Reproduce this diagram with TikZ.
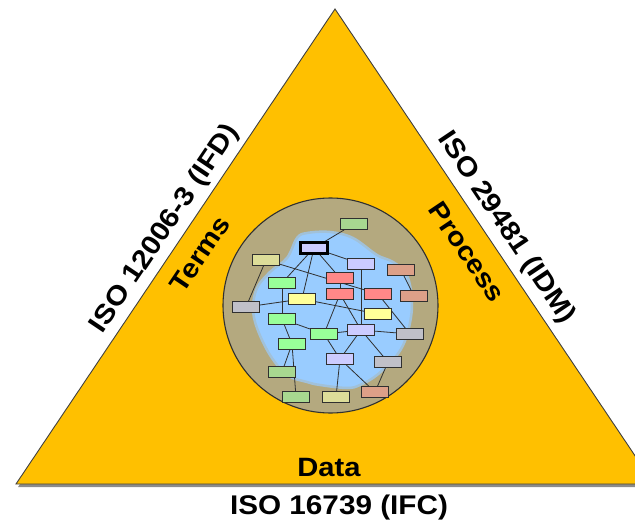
\documentclass[tikz,border=0pt]{standalone}
\usepackage{fontspec}
\setmainfont{Liberation Sans}
\usetikzlibrary{backgrounds}
\definecolor{tri}{HTML}{FFC000}
\definecolor{tan}{HTML}{B4A97F}
\definecolor{blob}{HTML}{99CCFF}
\definecolor{gr}{HTML}{99FF99}
\definecolor{grm}{HTML}{A8D890}
\definecolor{lav}{HTML}{CCCCFF}
\definecolor{kha}{HTML}{DDDD99}
\definecolor{yel}{HTML}{FFFF99}
\definecolor{red}{HTML}{FF8888}
\definecolor{sal}{HTML}{DDA088}
\definecolor{gry}{HTML}{C0C0C8}
\definecolor{edge}{HTML}{303030}
\tikzset{
  box/.style={draw=edge, line width=1.3pt, minimum width=27pt, minimum height=10.5pt, inner sep=0pt, rectangle},
  boldbox/.style={box, draw=black, line width=2.6pt},
  link/.style={draw=edge, line width=0.8pt},
  lbl/.style={font=\fontsize{27}{30}\selectfont\bfseries, inner sep=0pt},
  sublbl/.style={font=\fontsize{26.5}{30}\selectfont\bfseries, inner sep=0pt}
}
\begin{document}
\begin{tikzpicture}[x=1pt, y=-1pt]
\useasboundingbox (0,0) rectangle (635,524);
\clip (0,0) rectangle (635,524);
% nodes
\node[box, fill=grm] (n1) at (354,224) {};
\node[boldbox, fill=lav] (n2) at (314,248) {};
\node[box, fill=kha] (n3) at (266,260) {};
\node[box, fill=lav] (n4) at (361,264) {};
\node[box, fill=sal] (n5) at (401,270) {};
\node[box, fill=red] (n6) at (340,278) {};
\node[box, fill=gr] (n7) at (282,283) {};
\node[box, fill=red] (n8) at (340,294) {};
\node[box, fill=red] (n9) at (378,294) {};
\node[box, fill=sal] (n10) at (414,296) {};
\node[box, fill=yel] (n11) at (302,299) {};
\node[box, fill=gry] (n12) at (246,307) {};
\node[box, fill=yel] (n13) at (378,314) {};
\node[box, fill=gr] (n14) at (282,319) {};
\node[box, fill=lav] (n15) at (361,330) {};
\node[box, fill=gr] (n16) at (324,334) {};
\node[box, fill=gry] (n17) at (410,334) {};
\node[box, fill=gr] (n18) at (292,344) {};
\node[box, fill=lav] (n19) at (340,359) {};
\node[box, fill=gry] (n20) at (388,362) {};
\node[box, fill=grm] (n21) at (282,372) {};
\node[box, fill=sal] (n22) at (375,392) {};
\node[box, fill=grm] (n23) at (296,397) {};
\node[box, fill=kha] (n24) at (336,397) {};
% labels
\node[lbl, rotate=56.1] (l1) at (165,229) {\scalebox{1.1}[1]{ISO 12006-3 (IFD)}};
\node[lbl, rotate=-56.1] (l2) at (506,228) {\scalebox{1.1}[1]{ISO 29481 (IDM)}};
\node[lbl] (l3) at (339,508) {\scalebox{1.1}[1]{ISO 16739 (IFC)}};
\node[sublbl, rotate=56.1] (t1) at (200,254) {\scalebox{1.1}[1]{Terms}};
\node[sublbl, rotate=-56.1] (t2) at (467,252) {\scalebox{1.1}[1]{Process}};
\node[sublbl] (t3) at (329,468) {\scalebox{1.1}[1]{Data}};
\begin{scope}[on background layer]
  % triangle with shadow
  \fill[black!45] (337,12) -- (18,487) -- (656,487) -- cycle;
  \fill[tri] (335,9) -- (16,484) -- (654,484) -- cycle;
  \draw[black!75, line width=0.9pt, line join=miter] (335,9) -- (16,484) -- (654,484) -- cycle;
  % circle
  \draw[fill=tan, draw=edge, line width=1.1pt] (330.5,305.5) circle[radius=107.5];
  % blob
  \path[fill=blob, draw=blob!70!tan, line width=2.5pt] plot[smooth cycle, tension=0.6] coordinates {
    (270,355) (287,375) (307,382) (320,385) (347,388) (360,385) (377,375)
    (397,355) (407,335) (412,305) (407,275) (393,262) (377,255) (353,238)
    (330,232) (307,233) (297,238) (287,258) (270,272) (257,288) (253,308) (257,328)};
  % links
  \foreach \a/\b in {n1/n2, n2/n7, n2/n11, n2/n6, n2/n4, n3/n12, n3/n9, n4/n15,
    n5/n10, n6/n8, n7/n14, n12/n11, n11/n13, n8/n16, n8/n15, n9/n17, n14/n16,
    n14/n18, n16/n15, n15/n17, n15/n19, n15/n20, n16/n19, n18/n21, n18/n23,
    n19/n24, n19/n22, n20/n22}
    \draw[link] (\a) -- (\b);
\end{scope}
\end{tikzpicture}
\end{document}
